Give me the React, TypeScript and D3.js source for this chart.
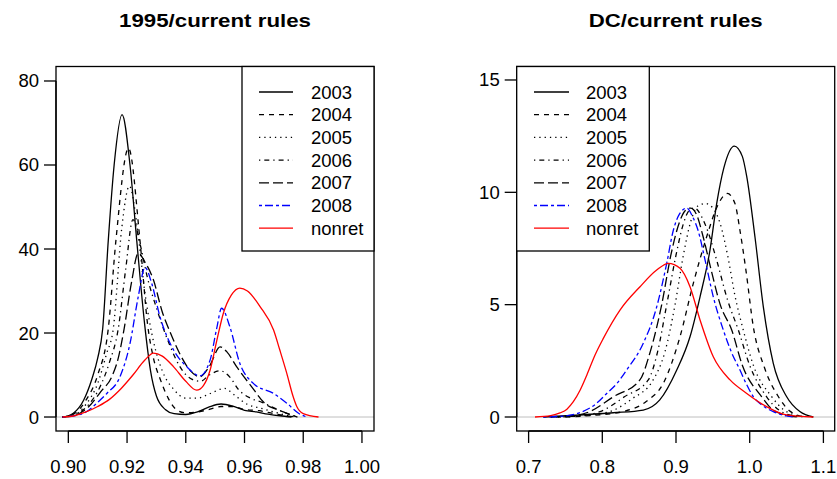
import React from 'react';
import * as d3 from 'd3';

type Pt = [number, number];

const seriesNames = ['2003', '2004', '2005', '2006', '2007', '2008', 'nonret'];
const leftTitle = '1995/current rules';
const rightTitle = 'DC/current rules';
const leftXTicks = [0.9, 0.92, 0.94, 0.96, 0.98, 1.0];
const leftYTicks = [0, 20, 40, 60, 80];
const rightXTicks = [0.7, 0.8, 0.9, 1.0, 1.1];
const rightYTicks = [0, 5, 10, 15];

// Left panel: 1995/current rules
const left2003: Pt[] = [[0.898,0],[0.9,0.3],[0.9017,0.9],[0.9052,4],[0.908,9],[0.910,14],[0.9117,21],[0.9136,42],[0.9156,60],[0.9183,72],[0.921,60],[0.9233,42],[0.926,22],[0.928,11],[0.930,5],[0.933,1.8],[0.936,0.8],[0.940,0.6],[0.944,1.2],[0.948,2.4],[0.952,3.1],[0.956,2.6],[0.960,1.6],[0.964,1.2],[0.968,0.7],[0.972,0.3],[0.976,0]];
const left2004: Pt[] = [[0.898,0],[0.902,0.8],[0.906,4],[0.910,10],[0.9136,21],[0.9162,42],[0.9205,64],[0.9244,42],[0.927,22],[0.929,14],[0.9313,9],[0.934,4.5],[0.9369,1.7],[0.940,1],[0.944,1.2],[0.948,1.8],[0.952,2.5],[0.956,2.5],[0.960,1.8],[0.965,1.5],[0.970,0.8],[0.975,0.2],[0.978,0]];
const left2005: Pt[] = [[0.898,0],[0.902,0.5],[0.906,3],[0.910,8],[0.913,15],[0.9153,21],[0.9182,45],[0.9208,55],[0.9235,45],[0.926,30],[0.929,18],[0.932,11],[0.936,6.5],[0.940,4.5],[0.944,4.5],[0.948,5.5],[0.9532,6.8],[0.957,5],[0.961,3],[0.965,2.2],[0.970,1.2],[0.975,0.3],[0.978,0]];
const left2006: Pt[] = [[0.898,0],[0.903,0.8],[0.907,3],[0.911,7.5],[0.914,13],[0.917,21],[0.9195,35],[0.922,47],[0.9245,41],[0.927,33],[0.930,26],[0.9346,17],[0.938,12],[0.942,9],[0.945,8.5],[0.948,10],[0.9517,11],[0.955,9.5],[0.958,6.5],[0.962,4.5],[0.966,3.5],[0.970,2.2],[0.974,1],[0.978,0]];
const left2007: Pt[] = [[0.898,0],[0.903,0.6],[0.907,2.5],[0.911,6],[0.9148,9.6],[0.917,14],[0.919,21],[0.9215,32],[0.9238,39],[0.926,37],[0.929,32.6],[0.932,25],[0.9346,20.3],[0.938,15],[0.941,11.5],[0.9448,9.6],[0.948,12],[0.9517,16.7],[0.954,15.5],[0.9573,12],[0.962,7.6],[0.9675,2.9],[0.971,1.8],[0.974,1],[0.978,0]];
const left2008: Pt[] = [[0.898,0],[0.902,0.3],[0.9063,1.3],[0.910,3.5],[0.9131,5.6],[0.9176,9.6],[0.921,17.5],[0.9238,28.6],[0.9261,35.6],[0.9284,31.8],[0.9312,23.9],[0.9358,16],[0.9403,12],[0.9448,9.8],[0.9483,13.6],[0.9505,21],[0.9522,25.9],[0.955,21.5],[0.9584,12.8],[0.963,8],[0.9699,5.6],[0.9744,3.3],[0.9784,0.9],[0.9812,0]];
const leftNonret: Pt[] = [[0.898,0],[0.902,0.3],[0.906,1.2],[0.910,2.5],[0.914,4.2],[0.918,6.8],[0.922,10],[0.926,13.5],[0.929,15.2],[0.932,14.5],[0.9358,12],[0.940,8.5],[0.9437,6.4],[0.946,7.5],[0.9483,11.2],[0.9505,18],[0.9528,24.7],[0.9555,29],[0.9584,30.7],[0.961,30],[0.9653,26.3],[0.9699,20.7],[0.972,16],[0.9744,10.4],[0.9765,5],[0.9778,2.5],[0.980,0.8],[0.9852,0]];

// Right panel: DC/current rules
const right2003: Pt[] = [[0.72,0],[0.77,0.09],[0.815,0.19],[0.8556,0.31],[0.878,0.76],[0.901,2.09],[0.919,3.57],[0.9326,5.35],[0.9461,7.43],[0.9552,9.5],[0.965,11.1],[0.9791,12.06],[0.99,11.6],[0.996,10.7],[1.0072,8],[1.0185,4.9],[1.032,2.39],[1.0502,0.9],[1.068,0.24],[1.0863,0]];
const right2004: Pt[] = [[0.75,0],[0.79,0.08],[0.828,0.24],[0.86,0.7],[0.8828,1.5],[0.9054,3.57],[0.9235,5.95],[0.9416,8.02],[0.955,9.3],[0.9696,9.95],[0.98,9.5],[0.9868,8.3],[0.995,6.5],[1.005,4.0],[1.02,2.2],[1.039,0.9],[1.055,0.25],[1.075,0]];
const right2005: Pt[] = [[0.74,0],[0.77,0.05],[0.81,0.24],[0.84,0.8],[0.869,1.65],[0.885,2.9],[0.8987,5],[0.91,7.2],[0.92,8.7],[0.93,9.4],[0.94,9.5],[0.95,9.3],[0.96,8.6],[0.97,7.2],[0.98,5.4],[0.9913,3.87],[1.005,2.3],[1.03,0.9],[1.045,0.35],[1.06,0.1],[1.075,0]];
const right2006: Pt[] = [[0.73,0],[0.765,0.05],[0.797,0.24],[0.83,0.9],[0.8624,1.65],[0.875,2.9],[0.8874,5],[0.9,7.2],[0.91,8.6],[0.918,9.2],[0.925,9.3],[0.935,8.9],[0.9439,8.2],[0.955,7.0],[0.97,5.2],[0.9846,3.87],[1.0,2.3],[1.023,0.9],[1.04,0.3],[1.055,0.08],[1.07,0]];
const right2007: Pt[] = [[0.73,0],[0.76,0.05],[0.783,0.24],[0.815,0.9],[0.851,1.65],[0.865,2.9],[0.8806,5],[0.893,7.2],[0.905,8.7],[0.913,9.2],[0.92,9.3],[0.928,9.0],[0.937,8.0],[0.948,6.5],[0.96,5.0],[0.9756,3.87],[0.99,2.3],[1.0163,0.9],[1.03,0.35],[1.05,0.08],[1.065,0]];
const right2008: Pt[] = [[0.72,0],[0.75,0.05],[0.77,0.2],[0.79,0.55],[0.806,1.05],[0.82,1.5],[0.833,2.09],[0.8556,3.28],[0.8738,4.9],[0.8874,6.84],[0.8963,8.3],[0.905,9.05],[0.9145,9.3],[0.922,8.95],[0.93,8.3],[0.94,6.9],[0.9506,5.35],[0.9642,3.87],[0.975,2.9],[0.9868,2.09],[0.995,1.5],[1.005,0.9],[1.018,0.5],[1.032,0.24],[1.05,0.05],[1.06,0]];
const rightNonret: Pt[] = [[0.7087,0],[0.73,0.06],[0.7426,0.18],[0.752,0.35],[0.7607,0.68],[0.77,1.2],[0.7788,1.85],[0.79,2.75],[0.8014,3.5],[0.824,4.76],[0.8512,5.8],[0.8738,6.54],[0.8896,6.84],[0.9054,6.62],[0.919,5.8],[0.9326,4.32],[0.9506,2.68],[0.9733,1.65],[0.996,1.05],[1.023,0.46],[1.05,0.09],[1.0863,0]];

const leftSeries = [left2003, left2004, left2005, left2006, left2007, left2008, leftNonret];
const rightSeries = [right2003, right2004, right2005, right2006, right2007, right2008, rightNonret];

const colors = ['#000000', '#000000', '#000000', '#000000', '#000000', '#0000FF', '#FF0000'];
const dashes = ['none', '5,5', '1.3,4', '1.3,4,5,4', '10,4', '3,3,8,3', 'none'];

const FONT = 'Liberation Sans, Arial, Helvetica, sans-serif';

interface PanelProps {
  title: string;
  titleWidth: number;
  series: Pt[][];
  xDomain: [number, number];
  yDomain: [number, number];
  box: { x0: number; x1: number; y0: number; y1: number };
  xTicks: number[];
  yTicks: number[];
  xFmt: (v: number) => string;
  legend: { x0: number; x1: number; y0: number; y1: number; lx0: number; lx1: number; tx: number };
}

function Panel(p: PanelProps) {
  const x = d3.scaleLinear().domain(p.xDomain).range([p.box.x0, p.box.x1]);
  const y = d3.scaleLinear().domain(p.yDomain).range([p.box.y1, p.box.y0]);
  const line = d3.line<Pt>().x(d => x(d[0])).y(d => y(d[1])).curve(d3.curveMonotoneX);
  const tick = 12;
  const sw = 1.3;
  const cx = (p.box.x0 + p.box.x1) / 2;
  return (
    <g>
      <text x={cx - p.titleWidth / 2} y={27} textLength={p.titleWidth} lengthAdjust="spacingAndGlyphs" fontFamily={FONT} fontWeight="bold" fontSize={18.5}>{p.title}</text>
      <line x1={p.box.x0} x2={p.box.x1} y1={y(0)} y2={y(0)} stroke="#bebebe" strokeWidth={1} />
      {p.series.map((s, i) => (
        <path key={i} d={line(s) || ''} fill="none" stroke={colors[i]} strokeWidth={sw} strokeDasharray={dashes[i]} />
      ))}
      <rect x={p.box.x0} y={p.box.y0} width={p.box.x1 - p.box.x0} height={p.box.y1 - p.box.y0} fill="none" stroke="#000" strokeWidth={sw} />
      {/* x axis */}
      <line x1={x(p.xTicks[0])} x2={x(p.xTicks[p.xTicks.length - 1])} y1={p.box.y1} y2={p.box.y1} stroke="#000" strokeWidth={sw} />
      {p.xTicks.map((t, i) => (
        <g key={i}>
          <line x1={x(t)} x2={x(t)} y1={p.box.y1} y2={p.box.y1 + tick} stroke="#000" strokeWidth={sw} />
          <text x={x(t)} y={472.5} textAnchor="middle" fontFamily={FONT} fontSize={18.5}>{p.xFmt(t)}</text>
        </g>
      ))}
      {/* y axis */}
      <line x1={p.box.x0} x2={p.box.x0} y1={y(p.yTicks[0])} y2={y(p.yTicks[p.yTicks.length - 1])} stroke="#000" strokeWidth={sw} />
      {p.yTicks.map((t, i) => (
        <g key={i}>
          <line x1={p.box.x0 - tick} x2={p.box.x0} y1={y(t)} y2={y(t)} stroke="#000" strokeWidth={sw} />
          <text x={p.box.x0 - 17} y={y(t) + 6.5} textAnchor="end" fontFamily={FONT} fontSize={18.5}>{String(t)}</text>
        </g>
      ))}
      {/* legend */}
      <rect x={p.legend.x0} y={p.legend.y0} width={p.legend.x1 - p.legend.x0} height={p.legend.y1 - p.legend.y0} fill="#fff" stroke="#000" strokeWidth={sw} />
      {seriesNames.map((n, i) => {
        const ry = p.legend.y0 + 25.5 + i * 22.7;
        return (
          <g key={n}>
            <line x1={p.legend.lx0} x2={p.legend.lx1} y1={ry} y2={ry} stroke={colors[i]} strokeWidth={sw} strokeDasharray={dashes[i]} />
            <text x={p.legend.tx} y={ry + 6.5} fontFamily={FONT} fontSize={18.5}>{n}</text>
          </g>
        );
      })}
    </g>
  );
}

export default function App() {
  const f2 = d3.format('.2f');
  const f1 = d3.format('.1f');
  return (
    <svg width={837} height={479} style={{ position: 'absolute', left: 0, top: 0, background: '#fff' }}>
      <rect x={0} y={0} width={837} height={479} fill="#fff" />
      <Panel
        title={leftTitle}
        titleWidth={192}
        series={leftSeries}
        xDomain={[0.8958, 1.0041]}
        yDomain={[-3.33, 83.45]}
        box={{ x0: 56, x1: 374, y0: 66.5, y1: 431 }}
        xTicks={leftXTicks}
        yTicks={leftYTicks}
        xFmt={f2}
        legend={{ x0: 242, x1: 374, y0: 66.5, y1: 251, lx0: 259, lx1: 293, tx: 311 }}
      />
      <Panel
        title={rightTitle}
        titleWidth={174}
        series={rightSeries}
        xDomain={[0.68385, 1.11533]}
        yDomain={[-0.623, 15.6]}
        box={{ x0: 516.7, x1: 834.7, y0: 66.5, y1: 431 }}
        xTicks={rightXTicks}
        yTicks={rightYTicks}
        xFmt={f1}
        legend={{ x0: 516.7, x1: 649.3, y0: 66.5, y1: 251, lx0: 534, lx1: 569, tx: 586 }}
      />
    </svg>
  );
}
